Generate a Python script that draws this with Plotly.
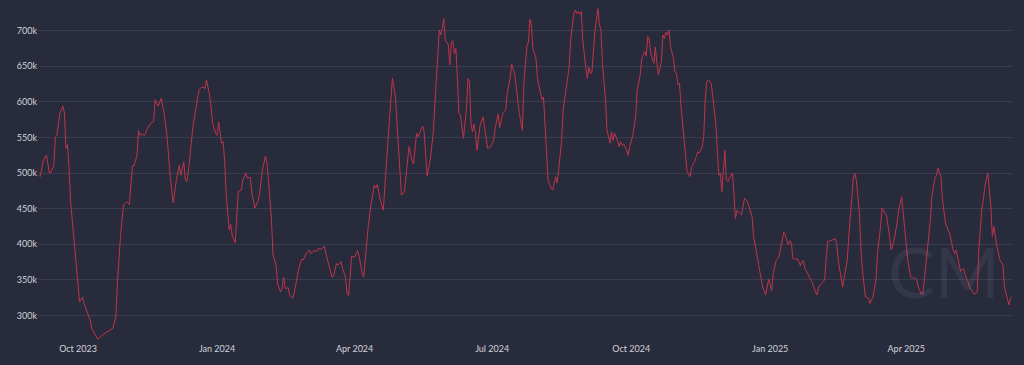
import pandas as pd
import plotly.graph_objects as go

# Day offsets from the first observation (2023-09-05) and values in thousands
start_date = "2023-09-05"
day_offsets = [
    0, 1, 3, 5, 6, 7, 8, 10, 11, 12, 14, 16, 17, 18, 19, 20, 21, 23, 24, 26, 27, 29, 30, 32, 34, 35, 39, 43, 46, 48,
    49, 51, 52, 54, 56, 58, 60, 62, 63, 65, 66, 67, 68, 70, 72, 74, 76, 77, 79, 81, 83, 85, 87, 89, 91, 93, 94, 96, 97, 98,
    99, 102, 103, 106, 108, 110, 111, 113, 114, 115, 117, 118, 119, 121, 122, 123, 124, 126, 127, 128, 130, 132, 134, 135,
    137, 138, 140, 141, 143, 145, 146, 148, 150, 151, 152, 154, 155, 157, 158, 160, 161, 162, 163, 165, 166, 168, 169, 171,
    172, 174, 175, 177, 179, 180, 182, 184, 185, 187, 189, 190, 192, 194, 195, 197, 198, 200, 201, 203, 204, 205, 206, 207,
    209, 211, 212, 214, 215, 217, 218, 220, 222, 223, 224, 226, 228, 229, 231, 233, 234, 236, 238, 239, 240, 242, 244, 245,
    247, 248, 250, 251, 254, 255, 257, 259, 261, 263, 265, 266, 267, 268, 269, 271, 272, 273, 274, 275, 276, 277, 278, 279,
    281, 283, 284, 285, 286, 287, 288, 289, 290, 292, 294, 295, 297, 299, 301, 302, 304, 305, 307, 309, 310, 312, 313, 315,
    316, 318, 320, 321, 323, 324, 325, 326, 327, 329, 330, 332, 333, 334, 335, 336, 337, 339, 340, 342, 343, 344, 346, 347,
    349, 351, 352, 354, 355, 356, 357, 358, 359, 360, 362, 363, 364, 365, 366, 367, 368, 370, 371, 372, 373, 375, 376, 378,
    379, 380, 381, 383, 384, 385, 386, 387, 389, 390, 391, 393, 395, 396, 398, 399, 401, 402, 403, 404, 405, 407, 408, 409,
    410, 412, 413, 414, 415, 416, 417, 418, 420, 421, 422, 423, 424, 425, 427, 428, 429, 431, 432, 434, 435, 436, 437, 439,
    440, 441, 442, 443, 445, 446, 448, 449, 450, 451, 452, 453, 454, 455, 456, 457, 459, 460, 461, 462, 463, 465, 466, 467,
    469, 470, 472, 473, 475, 477, 478, 479, 481, 482, 483, 485, 486, 488, 489, 490, 492, 493, 494, 496, 497, 498, 499, 501,
    502, 504, 505, 506, 507, 509, 510, 512, 513, 514, 515, 516, 518, 520, 521, 522, 524, 525, 527, 528, 529, 531, 532, 533,
    535, 536, 538, 539, 540, 541, 542, 543, 544, 545, 547, 549, 550, 552, 554, 555, 557, 558, 560, 561, 563, 564, 566, 568,
    569, 571, 572, 574, 575, 577, 578, 579, 581, 582, 584, 585, 586, 588, 590, 591, 593, 594, 595, 597, 598, 600, 601, 603,
    605, 606, 607, 609, 610, 612, 613, 615, 616, 618, 619, 621, 622, 624, 625, 626, 628, 630, 631, 632, 633, 634, 636, 638,
    639, 641, 642, 643, 644,
]
values_k = [
    497, 495, 518, 525, 514, 500, 501, 511, 551, 553, 584, 594, 584, 535, 540, 509, 462, 411, 392, 332, 319, 326, 317, 305, 294, 282, 267, 274, 278, 280,
    282, 298, 345, 408, 455, 460, 456, 511, 510, 525, 560, 553, 555, 553, 563, 570, 572, 603, 594, 605, 584, 549, 495, 458, 490, 511, 497, 516, 490, 488,
    502, 565, 579, 617, 621, 619, 631, 610, 593, 570, 556, 553, 572, 542, 544, 518, 472, 420, 428, 413, 402, 474, 476, 490,
    500, 493, 494, 472, 451, 460, 469, 504, 524, 514, 490, 434, 385, 371, 345, 333, 338, 354, 338, 339, 329, 324, 331, 354,
    366, 379, 378, 387, 392, 387, 391, 390, 394, 393, 397, 387, 369, 354, 355, 373, 371, 376, 366, 354, 331, 328, 354, 383,
    382, 391, 383, 359, 354, 401, 425, 458, 483, 479, 484, 462, 448, 481, 542, 612, 633, 607, 542, 495, 469, 474, 514, 537,
    518, 513, 556, 551, 566, 558, 496, 518, 556, 631, 701, 694, 703, 717, 687, 680, 652, 684, 686, 668, 675, 635, 584, 582,
    549, 589, 633, 628, 570, 558, 569, 556, 532, 567, 579, 565, 535, 537, 546, 563, 583, 564, 584, 589, 612, 635, 653, 638,
    617, 584, 560, 626, 678, 684, 716, 708, 675, 661, 633, 612, 603, 607, 570, 532, 490, 479, 476, 495, 486, 504, 546, 589,
    619, 649, 687, 724, 729, 724, 727, 723, 727, 687, 647, 633, 649, 640, 641, 671, 699, 731, 708, 701, 654, 603, 560, 542,
    558, 546, 556, 546, 537, 544, 539, 541, 532, 525, 537, 553, 579, 617, 638, 661, 671, 664, 692, 687, 668, 654, 677, 654,
    638, 657, 694, 689, 698, 694, 701, 678, 661, 642, 640, 624, 626, 593, 546, 516, 502, 495, 509, 516, 523, 530, 528, 537,
    551, 603, 628, 631, 626, 605, 570, 532, 497, 500, 474, 504, 532, 490, 488, 493, 500, 472, 436, 448, 446, 441, 453, 465,
    460, 453, 439, 411, 387, 364, 354, 340, 329, 340, 351, 335, 359, 378, 380, 385, 406, 417, 413, 399, 405, 402, 380, 379,
    380, 370, 376, 377, 366, 359, 354, 345, 337, 333, 329, 340, 345, 350, 378, 404, 405, 406, 408, 401, 378, 352, 340, 354,
    378, 411, 462, 493, 500, 490, 467, 445, 395, 364, 326, 324, 317, 326, 350, 387, 425, 451, 444, 440, 411, 392, 406, 430,
    448, 467, 444, 406, 378, 354, 352, 354, 350, 340, 330, 330, 350, 392, 434, 467, 493, 497, 507, 495, 462, 430, 424, 413,
    392, 387, 392, 371, 362, 366, 357, 347, 340, 333, 330, 333, 390, 450, 462, 481, 500, 453, 411, 425, 411, 397, 378, 371,
    340, 322, 315, 324, 326,
]

dates = pd.Timestamp(start_date) + pd.to_timedelta(day_offsets, unit="D")
values = [v * 1000 for v in values_k]

BG = "#282b3c"
GRID = "#393c50"
TEXT = "#d2d4da"
LINE = "#bf3449"

fig = go.Figure()
fig.add_trace(go.Scatter(
    x=dates, y=values, mode="lines",
    line=dict(color=LINE, width=1),
    hoverinfo="x+y", showlegend=False,
))

fig.update_layout(
    width=1024, height=365,
    paper_bgcolor=BG, plot_bgcolor=BG,
    margin=dict(l=38, r=12, t=5, b=23),
    font=dict(family="Lato, 'Open Sans', sans-serif", size=9, color=TEXT),
    xaxis=dict(
        type="date",
        range=["2023-09-04 12:00", "2025-06-10 00:00"],
        tick0="2023-10-01", dtick="M3", tickformat="%b %Y",
        showgrid=False, zeroline=False, showline=False,
        ticks="", tickfont=dict(size=9, color=TEXT),
    ),
    yaxis=dict(
        range=[262800, 736100],
        tick0=300000, dtick=50000, tickformat="~s",
        showgrid=True, gridcolor=GRID, gridwidth=1,
        zeroline=False, showline=False, ticks="",
        tickfont=dict(size=9, color=TEXT),
    ),
    annotations=[dict(
        text="CM", x=0.99, y=0.08, xref="paper", yref="paper",
        xanchor="right", yanchor="bottom",
        showarrow=False,
        font=dict(size=70, color="rgba(200,205,230,0.08)", family="Lato, sans-serif"),
    )],
)

fig.write_html(
    "out.html",
    config={"displayModeBar": False},
    post_script="document.body.style.margin='0';document.body.style.overflow='hidden';document.body.style.background='#282b3c';",
)
